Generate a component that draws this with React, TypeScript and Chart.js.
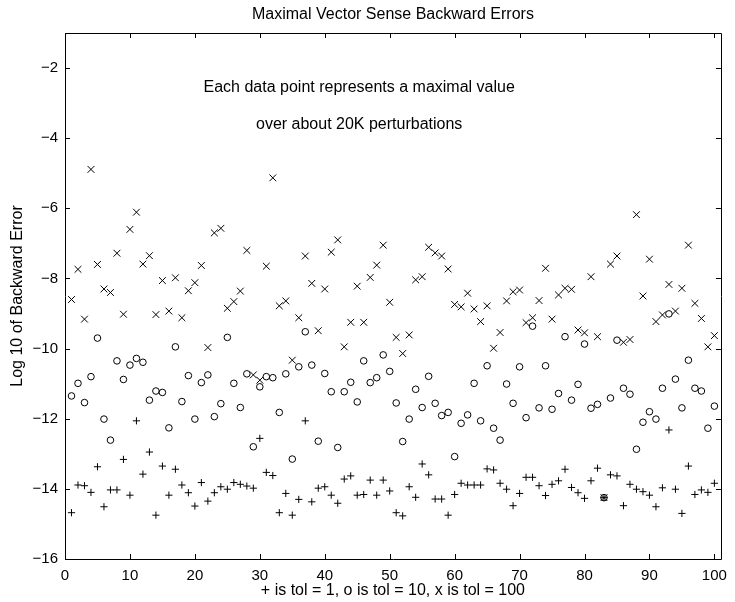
import { useEffect, useRef } from 'react';
import { Chart, registerables } from 'chart.js';

Chart.register(...registerables);

// Sample index (1..100)
const indices = [
  1, 2, 3, 4, 5, 6, 7, 8, 9, 10, 11, 12, 13, 14, 15, 16, 17, 18, 19, 20,
  21, 22, 23, 24, 25, 26, 27, 28, 29, 30, 31, 32, 33, 34, 35, 36, 37, 38, 39, 40,
  41, 42, 43, 44, 45, 46, 47, 48, 49, 50, 51, 52, 53, 54, 55, 56, 57, 58, 59, 60,
  61, 62, 63, 64, 65, 66, 67, 68, 69, 70, 71, 72, 73, 74, 75, 76, 77, 78, 79, 80,
  81, 82, 83, 84, 85, 86, 87, 88, 89, 90, 91, 92, 93, 94, 95, 96, 97, 98, 99, 100,
];

// "+" : tol = 1
const tol1 = [
  -14.68, -13.89, -13.91, -14.10, -13.37, -14.51, -14.03, -14.03, -13.16, -14.18,
  -12.06, -13.58, -12.95, -14.75, -13.35, -14.18, -13.44, -13.89, -14.11, -14.49,
  -13.82, -14.35, -14.11, -13.94, -14.01, -13.82, -13.87, -13.92, -13.98, -12.56,
  -13.53, -13.62, -14.68, -14.13, -14.75, -14.30, -12.06, -14.37, -13.98, -13.94,
  -14.18, -14.41, -13.72, -13.63, -14.18, -14.16, -13.75, -14.18, -13.75, -14.06,
  -14.68, -14.77, -13.94, -14.24, -13.29, -13.60, -14.29, -14.29, -14.75, -14.16,
  -13.84, -13.89, -13.89, -13.89, -13.43, -13.46, -13.84, -14.01, -14.48, -14.13,
  -13.67, -13.67, -13.91, -14.19, -13.87, -13.77, -13.44, -13.96, -14.11, -14.27,
  -13.77, -13.41, -14.25, -13.60, -13.63, -14.48, -13.87, -14.01, -14.08, -14.18,
  -14.51, -13.97, -12.32, -14.01, -14.70, -13.35, -14.16, -14.03, -14.10, -13.84,
];

// "o" : tol = 10
const tol10 = [
  -11.35, -10.99, -11.54, -10.80, -9.70, -12.01, -12.61, -10.35, -10.88, -10.47,
  -10.28, -10.39, -11.47, -11.21, -11.25, -12.26, -9.95, -11.51, -10.77, -12.01,
  -10.97, -10.75, -11.94, -11.57, -9.68, -10.99, -11.68, -10.72, -12.80, -11.09,
  -10.80, -10.83, -11.82, -10.72, -13.15, -10.52, -9.52, -10.47, -12.64, -10.71,
  -11.23, -12.82, -11.23, -10.96, -11.52, -10.35, -10.97, -10.83, -10.18, -10.65,
  -11.55, -12.65, -12.01, -11.16, -11.68, -10.79, -11.56, -11.91, -11.82, -13.08,
  -12.13, -11.89, -10.99, -12.06, -10.49, -12.27, -12.61, -11.01, -11.56, -10.52,
  -11.97, -9.36, -11.69, -10.49, -11.73, -11.28, -9.66, -11.47, -11.02, -9.87,
  -11.70, -11.59, -14.25, -11.41, -9.76, -11.13, -11.30, -12.87, -12.10, -11.80,
  -12.01, -11.13, -9.01, -10.87, -11.69, -10.33, -11.13, -11.21, -12.27, -11.64,
];

// "x" : tol = 100
const tol100 = [
  -8.60, -7.74, -9.16, -4.89, -7.60, -8.30, -8.40, -7.28, -9.02, -6.60,
  -6.11, -7.59, -7.35, -9.03, -8.06, -8.93, -7.98, -9.12, -8.35, -8.12,
  -7.63, -9.97, -6.70, -6.57, -8.85, -8.66, -8.36, -7.20, -10.75, -10.90,
  -7.65, -5.13, -8.78, -8.64, -10.33, -9.12, -7.36, -8.14, -9.49, -8.30,
  -7.25, -6.90, -9.95, -9.25, -8.22, -9.25, -7.97, -7.62, -7.05, -8.68,
  -9.68, -10.14, -9.61, -8.04, -7.95, -7.11, -7.27, -7.36, -7.73, -8.74,
  -8.81, -8.42, -8.87, -9.23, -8.78, -9.99, -9.54, -8.64, -8.38, -8.33,
  -9.26, -9.12, -8.63, -7.71, -9.16, -8.47, -8.28, -8.31, -9.47, -9.55,
  -7.95, -9.66, -14.25, -7.59, -7.36, -9.82, -9.74, -6.18, -8.50, -7.45,
  -9.23, -9.04, -8.17, -8.93, -8.28, -7.05, -8.71, -9.14, -9.95, -9.63,
];

const xTicks = [0, 10, 20, 30, 40, 50, 60, 70, 80, 90, 100];
const yTicks = [-16, -14, -12, -10, -8, -6, -4, -2];

const titleText = 'Maximal Vector Sense Backward Errors';
const xLabel = '+ is tol = 1, o is tol = 10, x is tol = 100';
const yLabel = 'Log 10 of Backward Error';
const noteLines = ['Each data point represents a maximal value', 'over about 20K perturbations'];

const FONT = 'Liberation Sans, Arial, Helvetica, sans-serif';

const matlabFrame = {
  id: 'matlabFrame',
  afterDatasetsDraw(chart: any) {
    const { ctx, chartArea: a, scales } = chart;
    const xs = scales.x;
    const ys = scales.y;
    const tl = 5;
    ctx.save();
    ctx.strokeStyle = '#000';
    ctx.lineWidth = 1;
    ctx.beginPath();
    ctx.rect(Math.round(a.left) + 0.5, Math.round(a.top) + 0.5, Math.round(a.right - a.left), Math.round(a.bottom - a.top));
    for (const t of xTicks) {
      const px = Math.round(xs.getPixelForValue(t)) + 0.5;
      ctx.moveTo(px, a.bottom);
      ctx.lineTo(px, a.bottom - tl);
      ctx.moveTo(px, a.top);
      ctx.lineTo(px, a.top + tl);
    }
    for (const t of yTicks) {
      const py = Math.round(ys.getPixelForValue(t)) + 0.5;
      ctx.moveTo(a.left, py);
      ctx.lineTo(a.left + tl, py);
      ctx.moveTo(a.right, py);
      ctx.lineTo(a.right - tl, py);
    }
    ctx.stroke();
    ctx.restore();
  },
  afterDraw(chart: any) {
    const { ctx, chartArea: a, scales } = chart;
    const xs = scales.x;
    const ys = scales.y;
    ctx.save();
    ctx.fillStyle = '#000';
    ctx.textAlign = 'center';
    ctx.textBaseline = 'middle';
    ctx.font = `16px ${FONT}`;
    const cx = (a.left + a.right) / 2;
    ctx.fillText(titleText, cx, 15);
    ctx.fillText(xLabel, cx, 591);
    ctx.save();
    ctx.translate(18, (a.top + a.bottom) / 2);
    ctx.rotate(-Math.PI / 2);
    ctx.fillText(yLabel, 0, 0);
    ctx.restore();
    const nx = xs.getPixelForValue(45.3);
    ctx.fillText(noteLines[0], nx, ys.getPixelForValue(-2.57));
    ctx.fillText(noteLines[1], nx, ys.getPixelForValue(-3.6));
    ctx.restore();
  },
};

export default function App() {
  const ref = useRef<HTMLCanvasElement | null>(null);
  useEffect(() => {
    if (!ref.current) return;
    const mk = (vals: number[]) => indices.map((x, i) => ({ x, y: vals[i] }));
    const chart = new Chart(ref.current, {
      type: 'scatter',
      data: {
        datasets: [
          {
            label: 'tol = 1',
            data: mk(tol1),
            pointStyle: 'cross',
            pointRadius: 3.6,
            borderColor: '#000',
            backgroundColor: 'rgba(0,0,0,0)',
            borderWidth: 1,
          },
          {
            label: 'tol = 10',
            data: mk(tol10),
            pointStyle: 'circle',
            pointRadius: 3.3,
            borderColor: '#000',
            backgroundColor: 'rgba(0,0,0,0)',
            borderWidth: 1,
          },
          {
            label: 'tol = 100',
            data: mk(tol100),
            pointStyle: 'crossRot',
            pointRadius: 4.8,
            borderColor: '#000',
            backgroundColor: 'rgba(0,0,0,0)',
            borderWidth: 1,
          },
        ],
      },
      options: {
        animation: false,
        responsive: true,
        maintainAspectRatio: false,
        events: [],
        layout: { padding: { left: 0, right: 10, top: 33, bottom: 0 } },
        plugins: { legend: { display: false }, tooltip: { enabled: false }, title: { display: false } },
        scales: {
          x: {
            type: 'linear',
            min: 0,
            max: 101,
            grid: { display: false, drawTicks: false },
            border: { display: false },
            ticks: { stepSize: 10, padding: 8, color: '#000', font: { family: FONT, size: 15 }, maxRotation: 0 },
            afterBuildTicks: (s: any) => { s.ticks = xTicks.map((v) => ({ value: v })); },
            afterFit: (s: any) => { s.height = 43; },
          },
          y: {
            type: 'linear',
            min: -16,
            max: -1,
            grid: { display: false, drawTicks: false },
            border: { display: false },
            ticks: {
              stepSize: 2,
              padding: 7,
              color: '#000',
              font: { family: FONT, size: 15 },
              callback: (v: any) => (Number(v) < 0 ? '\u2212' + Math.abs(Number(v)) : String(v)),
            },
            afterBuildTicks: (s: any) => { s.ticks = yTicks.map((v) => ({ value: v })); },
            afterFit: (s: any) => { s.width = 65; },
          },
        },
      },
      plugins: [matlabFrame],
    });
    return () => chart.destroy();
  }, []);
  return (
    <div style={{ position: 'absolute', left: 0, top: 0, width: 735, height: 602, background: '#fff' }}>
      <canvas ref={ref} />
    </div>
  );
}
